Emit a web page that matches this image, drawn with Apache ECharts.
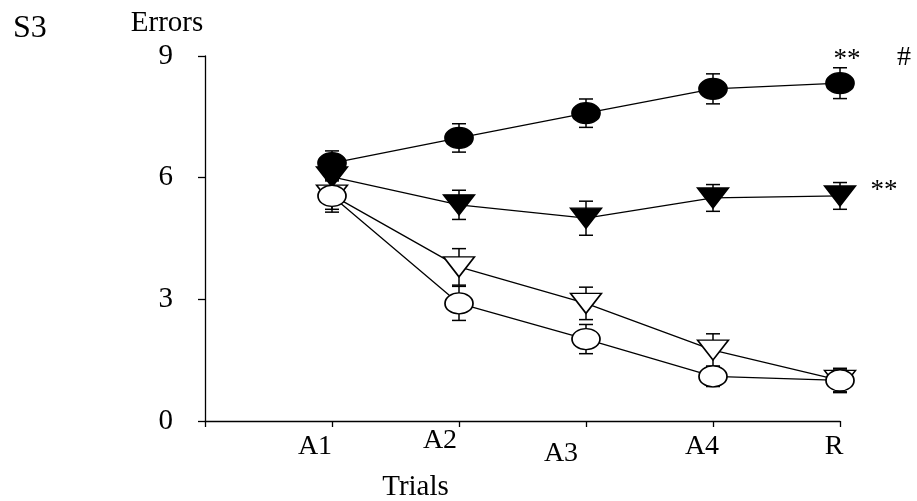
<!DOCTYPE html>
<html>
<head>
<meta charset="utf-8">
<script src="https://cdn.jsdelivr.net/npm/echarts@6/dist/echarts.min.js"></script>
<style>
  html, body { margin: 0; padding: 0; background: #fff; }
  #chart { width: 917px; height: 501px; }
</style>
</head>
<body>
<div id="chart"></div>
<script>
// categories (first slot blank: the axis origin)
const trials = ['A1', 'A2', 'A3', 'A4', 'R'];
const yTicks = [0, 3, 6, 9];

// group means and error bars
const filledCircle = [6.36, 6.98, 7.59, 8.19, 8.33];
const filledCircleErr = [0.3, 0.35, 0.35, 0.37, 0.38];
const filledTri = [6.02, 5.33, 5.0, 5.5, 5.55];
const filledTriErr = [0.3, 0.36, 0.42, 0.33, 0.33];
const openTri = [5.57, 3.8, 2.9, 1.75, 1.0];
const openTriErr = [0.35, 0.45, 0.4, 0.4, 0.3];
const openCircle = [5.55, 2.9, 2.02, 1.1, 1.0];
const openCircleErr = [0.4, 0.42, 0.36, 0.25, 0.28];

const FONT = '"Liberation Serif", "DejaVu Serif", serif';
const ellipse = 'path://M0,10a10,10 0 1,0 20,0a10,10 0 1,0 -20,0z';

// label nudges, the original labels sit a bit off their ticks
const labelRich = {
  A1: { padding: [6, 34, 0, 0] },
  A2: { padding: [0, 38, 0, 0] },
  A3: { padding: [13, 50, 0, 0] },
  A4: { padding: [6, 22, 0, 0] },
  R: { padding: [6, 12, 0, 0] }
};
Object.keys(labelRich).forEach(k => {
  labelRich[k].fontFamily = FONT;
  labelRich[k].fontSize = 28;
  labelRich[k].color = '#000';
});

function errorBars(means, errs) {
  return {
    type: 'custom',
    z: 1,
    silent: true,
    data: trials.map((t, i) => [i + 1, means[i], errs[i]]),
    renderItem: function (params, api) {
      const x = api.value(0), y = api.value(1), e = api.value(2);
      const top = api.coord([x, y + e]);
      const bot = api.coord([x, y - e]);
      const cw = 7;
      const st = { stroke: '#000', lineWidth: 1.5 };
      return {
        type: 'group',
        children: [
          { type: 'line', shape: { x1: top[0], y1: top[1], x2: bot[0], y2: bot[1] }, style: st },
          { type: 'line', shape: { x1: top[0] - cw, y1: top[1], x2: top[0] + cw, y2: top[1] }, style: st },
          { type: 'line', shape: { x1: bot[0] - cw, y1: bot[1], x2: bot[0] + cw, y2: bot[1] }, style: st }
        ]
      };
    }
  };
}

function lineSeries(name, values, symbol, size, fill, rotate, extra) {
  const s = {
    name: name,
    type: 'line',
    z: 3,
    data: trials.map((t, i) => [t, values[i]]),
    symbol: symbol,
    symbolSize: size,
    symbolRotate: rotate,
    showAllSymbol: true,
    lineStyle: { color: '#000', width: 1.3 },
    itemStyle: { color: fill, borderColor: '#000', borderWidth: 1.5 },
    emphasis: { disabled: true }
  };
  return Object.assign(s, extra || {});
}

function note(coord, text, offset, size) {
  return {
    coord: coord,
    symbol: 'circle',
    symbolSize: 1,
    itemStyle: { color: 'rgba(0,0,0,0)' },
    label: {
      show: true, formatter: text, position: 'inside', offset: offset,
      fontFamily: FONT, fontSize: size || 27, color: '#000'
    }
  };
}

const chart = echarts.init(document.getElementById('chart'));

chart.setOption({
  animation: false,
  backgroundColor: '#fff',
  title: {
    text: 'S3', left: 8, top: 8,
    textStyle: { fontFamily: FONT, fontSize: 32, fontWeight: 'normal', color: '#000' }
  },
  grid: { left: 205, right: 77, top: 56, bottom: 80, outerBoundsMode: 'none' },
  xAxis: {
    type: 'category',
    data: [''].concat(trials),
    boundaryGap: false,
    name: 'Trials',
    nameLocation: 'middle',
    nameGap: 49,
    nameTextStyle: { fontFamily: FONT, fontSize: 29, color: '#000', padding: [0, 214, 0, 0] },
    axisLine: { lineStyle: { color: '#000', width: 1.3 } },
    axisTick: { show: true, length: 6, lineStyle: { color: '#000', width: 1.3 } },
    axisLabel: {
      margin: 6,
      interval: 0,
      formatter: v => v ? '{' + v + '|' + v + '}' : '',
      rich: labelRich
    },
    splitLine: { show: false }
  },
  yAxis: {
    type: 'value',
    min: yTicks[0],
    max: yTicks[yTicks.length - 1],
    interval: 3,
    name: 'Errors',
    nameLocation: 'end',
    nameGap: 18,
    nameTextStyle: { fontFamily: FONT, fontSize: 29, color: '#000', padding: [0, 76, 0, 0] },
    axisLine: { show: true, lineStyle: { color: '#000', width: 1.3 } },
    axisTick: { show: true, length: 7, lineStyle: { color: '#000', width: 1.3 } },
    axisLabel: { margin: 32, fontFamily: FONT, fontSize: 29, color: '#000' },
    splitLine: { show: false }
  },
  series: [
    errorBars(filledCircle, filledCircleErr),
    errorBars(filledTri, filledTriErr),
    errorBars(openTri, openTriErr),
    errorBars(openCircle, openCircleErr),
    lineSeries('filledCircle', filledCircle, ellipse, [28, 21], '#000', 0, {
      markPoint: {
        data: [
          note(['R', filledCircle[4]], '**', [7, -23]),
          note(['R', filledCircle[4]], '#', [64, -26], 28)
        ]
      }
    }),
    lineSeries('filledTri', filledTri, 'triangle', [31, 20], '#000', 180, {
      markPoint: {
        data: [note(['R', filledTri[4]], '**', [44, -5])]
      }
    }),
    lineSeries('openTri', openTri, 'triangle', [31, 20], '#fff', 180),
    lineSeries('openCircle', openCircle, ellipse, [28, 21], '#fff', 0)
  ]
});
</script>
</body>
</html>
